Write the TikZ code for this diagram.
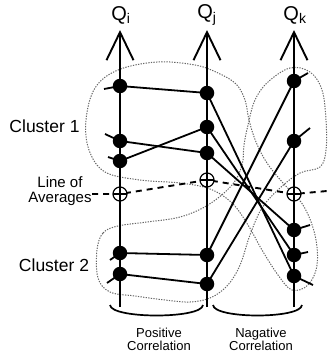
\documentclass[tikz,border=0pt]{standalone}
\usepackage{fontspec}
\setmainfont{Liberation Sans}
\usetikzlibrary{arrows.meta}
\begin{document}
\begin{tikzpicture}[x=1pt,y=-1pt,
  dot/.style={circle,fill=black,inner sep=0pt,minimum size=14.5pt},
  avgmark/.style={circle,draw=black,fill=white,line width=1.2pt,inner sep=0pt,minimum size=14pt,
    path picture={\draw[line width=1.2pt] (path picture bounding box.west) -- (path picture bounding box.east) (path picture bounding box.north) -- (path picture bounding box.south);}},
  conn/.style={line width=1.8pt},
  axisline/.style={line width=1.9pt,-{Straight Barb[length=28pt,width=27pt,line width=1.9pt]}},
  clus/.style={black!60,line width=1pt,dash pattern=on 1.3pt off 1.3pt},
  avgline/.style={line width=1.9pt,dash pattern=on 6pt off 5pt},
  bracestyle/.style={line width=1.7pt},
  biglab/.style={font=\fontsize{17.5}{18}\selectfont},
  qlab/.style={font=\fontsize{20}{20}\selectfont},
  smalllab/.style={font=\fontsize{13}{13}\selectfont,align=center},
  midlab/.style={font=\fontsize{15}{14.5}\selectfont,align=center},
]
\useasboundingbox (0,0) rectangle (327,356);

% clusters
\draw[clus] plot[smooth cycle,tension=0.6] coordinates {
 (95,88) (118,70) (157,62) (195,65) (218,73) (236,84) (245,100) (249,120) (256,142) (267,163)
 (283,183) (303,205) (315,235) (317,265) (308,285) (292,290) (278,275) (262,250) (248,225)
 (232,203) (210,189) (180,183) (140,180) (105,172) (89,150) (86,120)};
\draw[clus] plot[smooth cycle,tension=0.6] coordinates {
 (97,250) (103,233) (118,226) (147,222) (180,217) (208,205) (232,185) (242,165) (244,145)
 (248,125) (255,100) (268,82) (290,68) (310,72) (322,90) (326,120) (326,150) (320,167)
 (300,173) (280,188) (262,208) (250,235) (242,260) (235,275) (225,288) (210,298) (190,302)
 (165,300) (135,296) (110,292) (98,278)};

% axes
\coordinate (ib) at (120,307); \coordinate (it) at (120,30);
\coordinate (jb) at (207,307); \coordinate (jt) at (207,30);
\coordinate (kb) at (294,307); \coordinate (kt) at (294,30);
\draw[axisline] (ib) -- (it);
\draw[axisline] (jb) -- (jt);
\draw[axisline] (kb) -- (kt);

\node[qlab] (qi) at (121,15) {Q\textsubscript{i}};
\node[qlab] (qj) at (207,15) {Q\textsubscript{j}};
\node[qlab] (qk) at (295,15) {Q\textsubscript{k}};

% points
\node[dot] (i1) at (120,86) {};
\node[dot] (i2) at (120,141) {};
\node[dot] (i3) at (120,161) {};
\node[dot] (i4) at (120,253) {};
\node[dot] (i5) at (120,274) {};
\node[dot] (j1) at (207,93) {};
\node[dot] (j2) at (207,127) {};
\node[dot] (j3) at (207,153) {};
\node[dot] (j4) at (207,255) {};
\node[dot] (j5) at (207,284) {};
\node[dot] (k1) at (294,81) {};
\node[dot] (k2) at (294,141) {};
\node[dot] (k3) at (294,230) {};
\node[dot] (k4) at (294,255) {};
\node[dot] (k5) at (294,276) {};

% connections
\draw[conn] (i1.center) -- (j1.center);
\draw[conn] (i2.center) -- (j3.center);
\draw[conn] (i3.center) -- (j2.center);
\draw[conn] (i4.center) -- (j4.center);
\draw[conn] (i5.center) -- (j5.center);
\draw[conn] (j1.center) -- (k5.center);
\draw[conn] (j2.center) -- (k4.center);
\draw[conn] (j3.center) -- (k3.center);
\draw[conn] (j4.center) -- (k1.center);
\draw[conn] (j5.center) -- (k2.center);

% stubs
\coordinate (si1) at (104,89); \coordinate (si2) at (105,134); \coordinate (si3) at (108,157);
\coordinate (si4) at (110,260); \coordinate (si5) at (107,283);
\coordinate (sk1) at (308,73); \coordinate (sk2) at (310,128); \coordinate (sk3) at (310,225);
\coordinate (sk4) at (308,252); \coordinate (sk5) at (313,285);
\draw[conn] (si1) -- (i1.center); \draw[conn] (si2) -- (i2.center); \draw[conn] (si3) -- (i3.center);
\draw[conn] (si4) -- (i4.center); \draw[conn] (si5) -- (i5.center);
\draw[conn] (sk1) -- (k1.center); \draw[conn] (sk2) -- (k2.center); \draw[conn] (sk3) -- (k3.center);
\draw[conn] (sk4) -- (k4.center); \draw[conn] (sk5) -- (k5.center);

% line of averages
\coordinate (ai) at (120,194);
\coordinate (aj) at (207,180);
\coordinate (ak) at (294,194);
\coordinate (al) at (92,194);
\coordinate (ar) at (327,191);
\draw[avgline] (al) -- (ai) -- (aj) -- (ak) -- (ar);
\node[avgmark] (mi) at (ai) {};
\node[avgmark] (mj) at (aj) {};
\node[avgmark] (mk) at (ak) {};

% labels
\node[biglab] (c1) at (44.5,126) {Cluster 1};
\node[biglab] (c2) at (54,265) {Cluster 2};
\node[midlab] (la) at (60,191) {Line of\\Averages};

% braces
\coordinate (b1a) at (110,305); \coordinate (b1b) at (203,305);
\coordinate (b2a) at (213,305); \coordinate (b2b) at (302,305);
\draw[bracestyle] (b1a) .. controls (111,319) and (202,319) .. (b1b);
\draw[bracestyle] (b2a) .. controls (214,319) and (301,319) .. (b2b);
\node[smalllab] (pc) at (159,339) {Positive\\Correlation};
\node[smalllab] (nc) at (261,339) {Nagative\\Correlation};
\end{tikzpicture}
\end{document}
